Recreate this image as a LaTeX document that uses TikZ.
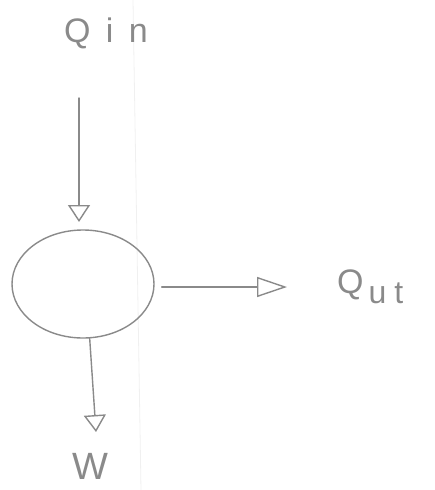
\documentclass[tikz,border=0pt]{standalone}
\usepackage{fontspec}
\setmainfont{Liberation Sans}
\usetikzlibrary{arrows.meta,shapes.geometric}
\definecolor{pencil}{HTML}{8A8A8A}
\tikzset{
  ink/.style={draw=pencil, line width=1.4pt, line cap=round},
  flow/.style={ink, -{Triangle[open, length=17pt, width=22pt, line width=1.4pt]}},
  label/.style={text=pencil, inner sep=0pt, font=\fontsize{34}{38}\selectfont\addfontfeature{LetterSpace=45}},
  body/.style={ellipse, ink, minimum width=142pt, minimum height=108pt, inner sep=0pt}
}
\begin{document}
\begin{tikzpicture}[x=1pt, y=-1pt]
  \useasboundingbox (0,0) rectangle (435,490);
  % faint fold of the paper
  \draw[gray!12, line width=0.8pt] (133,0) -- (141,490);

  % the system
  \node[body] (c) at (83,284) {};

  % labels
  \node[label, anchor=west] (qin) at (64,33) {Qin};
  \node[label, anchor=west] (qut) at (337,287) {{\addfontfeature{LetterSpace=0}Q}\hspace{5pt}\raisebox{-0.3em}{\fontsize{32}{36}\selectfont\addfontfeature{LetterSpace=25}ut}};
  \node[label, font=\fontsize{38}{42}\selectfont] (w) at (90,466) {W};

  % free ends of the connectors
  \coordinate (inStart) at (79,98);
  \coordinate (outEnd) at (287,287);
  \coordinate (wEnd) at (96,432);

  % heat in, heat out, work
  \draw[flow] (inStart) -- (79,222);
  \draw[flow, -{Triangle[open, length=30pt, width=20pt, line width=1.4pt]}, shorten <=7pt] (c.east |- outEnd) -- (outEnd);
  \draw[flow] (c.-83) -- (wEnd);
\end{tikzpicture}
\end{document}
